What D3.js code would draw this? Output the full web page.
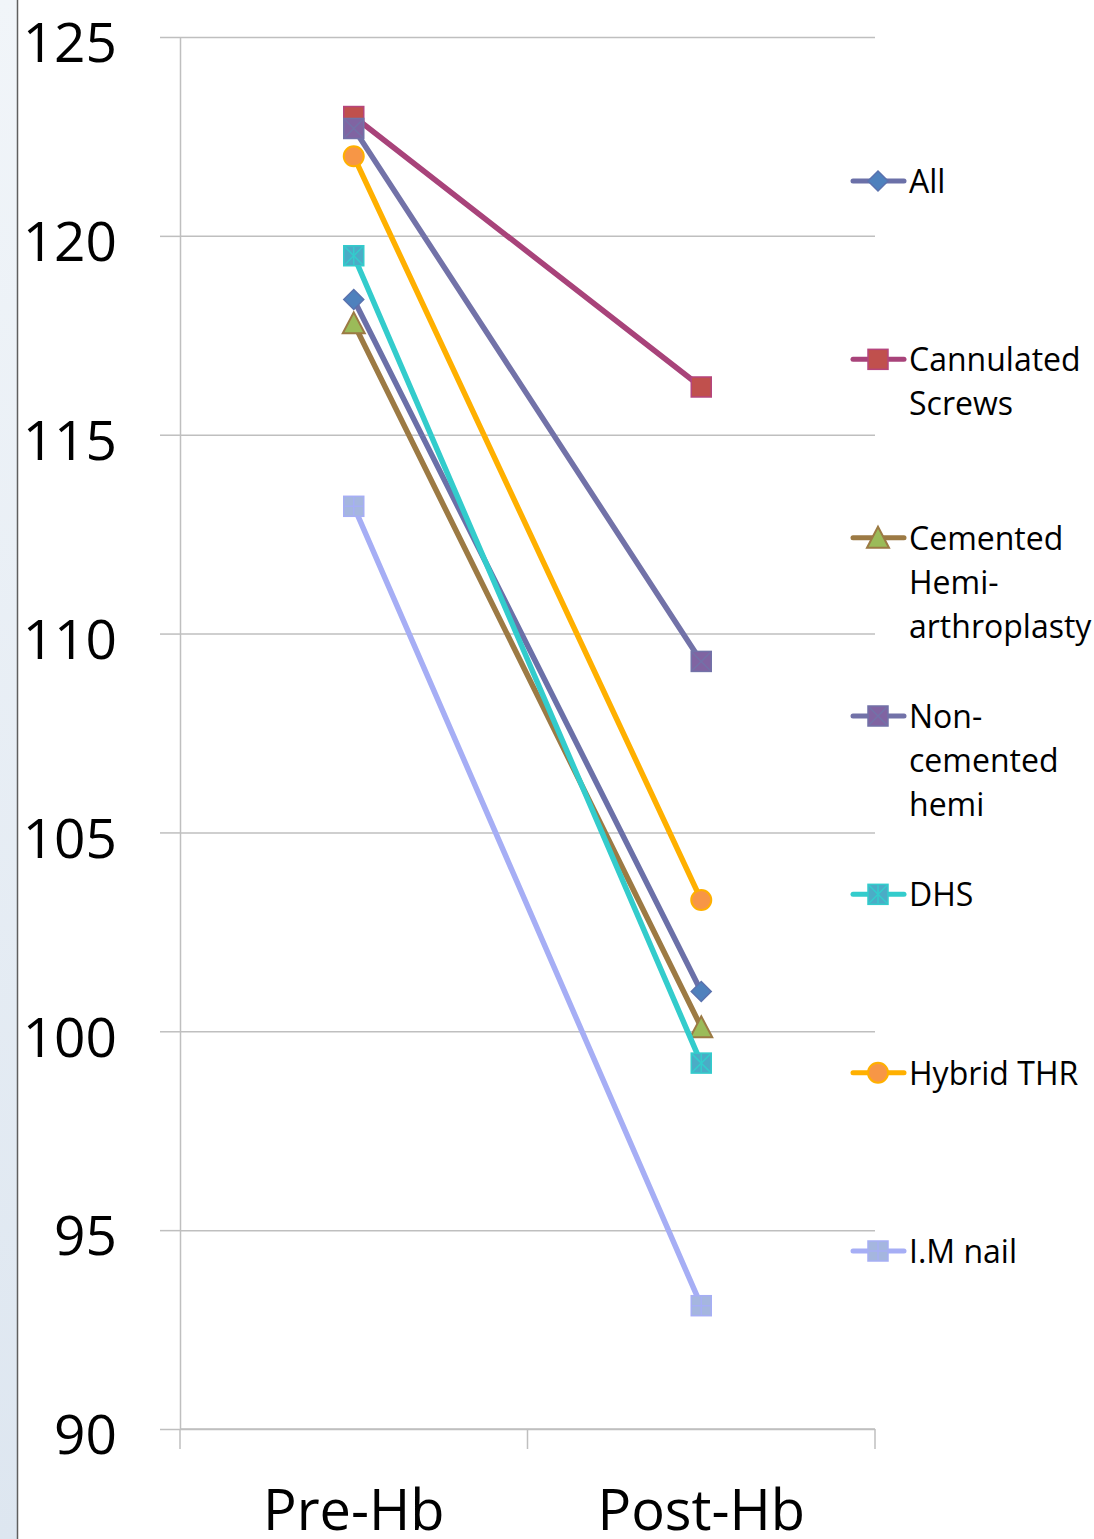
<!DOCTYPE html>
<html>
<head>
<meta charset="utf-8">
<script src="https://cdn.jsdelivr.net/npm/d3@7"></script>
<style>
  body { margin: 0; background: #fff; }
  text { font-family: "Open Sans", "Noto Sans", sans-serif; fill: #000; }
</style>
</head>
<body>
<svg id="chart" width="1094" height="1539"></svg>
<script>
// categories and values
categories = ["Pre-Hb", "Post-Hb"]
seriesNames = ["All", "Cannulated Screws", "Cemented Hemi-arthroplasty", "Non-cemented hemi", "DHS", "Hybrid THR", "I.M nail"]
legendLines = [["All"], ["Cannulated", "Screws"], ["Cemented", "Hemi-", "arthroplasty"], ["Non-", "cemented", "hemi"], ["DHS"], ["Hybrid THR"], ["I.M nail"]]
allVals = [118.4, 101.0]
cannulatedVals = [123.0, 116.2]
cementedVals = [117.8, 100.1]
nonCementedVals = [122.7, 109.3]
dhsVals = [119.5, 99.2]
hybridVals = [122.0, 103.3]
imNailVals = [113.2, 93.1]
yTicks = [90, 95, 100, 105, 110, 115, 120, 125]

seriesVals = [allVals, cannulatedVals, cementedVals, nonCementedVals, dhsVals, hybridVals, imNailVals]
lineColors = ["#6B70A8", "#A8437A", "#9C7A44", "#7272A8", "#33CCCC", "#FFB000", "#A6AEF5"]
markerFill = ["#4F81BD", "#C0504D", "#9BBB59", "#8064A2", "#4BACC6", "#F79646", "#A5B6DF"]
markerStroke = ["#5A72AE", "#B5457D", "#9C7A44", "#7272A8", "#33CCCC", "#FFB000", "#A6AEF5"]
markerShape = ["diamond", "square", "triangle", "squareX", "squareStar", "circle", "squarePlus"]

svg = d3.select("#chart")
const plotL = 180, plotR = 875, plotT = 37, plotB = 1429

// left strip
defs = svg.append("defs")
grad = defs.append("linearGradient").attr("id", "strip").attr("x1", 0).attr("y1", 0).attr("x2", 0).attr("y2", 1)
grad.append("stop").attr("offset", "0%").attr("stop-color", "#F1F5F9")
grad.append("stop").attr("offset", "100%").attr("stop-color", "#DDE6F0")
svg.append("rect").attr("x", 0).attr("y", 0).attr("width", 17).attr("height", 1539).attr("fill", "url(#strip)")
svg.append("line").attr("x1", 17.5).attr("x2", 17.5).attr("y1", 0).attr("y2", 1539)
  .attr("stroke", "#5F5F5F").attr("stroke-width", 1.5)

y = d3.scaleLinear().domain([90, 125]).range([plotB, plotT])
x = d3.scalePoint().domain(categories).range([plotL, plotR]).padding(0.5)

// gridlines
grid = svg.append("g").attr("transform", `translate(${plotL},0)`)
  .call(d3.axisLeft(y).tickValues(yTicks).tickSize(-(plotR - plotL)).tickFormat(""))
grid.select(".domain").remove()
grid.selectAll("line").attr("stroke", "#BFBFBF").attr("stroke-width", 1.5)

// y axis
yAxis = svg.append("g").attr("transform", `translate(${plotL},0)`)
  .call(d3.axisLeft(y).tickValues(yTicks).tickSize(20).tickSizeOuter(0).tickPadding(43))
yAxis.select(".domain").attr("stroke", "#BFBFBF").attr("stroke-width", 1.5)
yAxis.selectAll("line").attr("stroke", "#BFBFBF").attr("stroke-width", 1.5)
yAxis.selectAll("text").attr("font-size", 55).attr("font-family", "Open Sans").attr("fill", "#000")
  .attr("dy", "0.45em")

// x axis
xAxisLine = svg.append("g").attr("transform", `translate(0,${plotB})`)
xAxisLine.append("line").attr("x1", plotL).attr("x2", plotR).attr("stroke", "#BFBFBF").attr("stroke-width", 1.5)
bounds = [plotL, (plotL + plotR) / 2, plotR]
xAxisLine.selectAll(".tk").data(bounds).join("line").attr("class", "tk")
  .attr("x1", d => d).attr("x2", d => d).attr("y1", 0).attr("y2", 20)
  .attr("stroke", "#BFBFBF").attr("stroke-width", 1.5)
svg.selectAll(".cat").data(categories).join("text").attr("class", "cat")
  .attr("x", d => x(d)).attr("y", 1530).attr("text-anchor", "middle")
  .attr("font-size", 56).text(d => d)

function drawMarker(g, shape, fill, stroke) {
  var s = 10
  if (shape == "diamond") {
    g.append("path").attr("d", `M0,${-s}L${s},0L0,${s}L${-s},0Z`).attr("fill", fill).attr("stroke", stroke).attr("stroke-width", 1.5)
  } else if (shape == "triangle") {
    g.append("path").attr("d", `M0,${-s-1}L${s+1},${s}L${-s-1},${s}Z`).attr("fill", fill).attr("stroke", stroke).attr("stroke-width", 2)
  } else if (shape == "circle") {
    g.append("circle").attr("r", s).attr("fill", fill).attr("stroke", stroke).attr("stroke-width", 2)
  } else {
    g.append("rect").attr("x", -s).attr("y", -s).attr("width", 2 * s).attr("height", 2 * s)
      .attr("fill", fill).attr("stroke", stroke).attr("stroke-width", 1.5)
    var p = s - 1
    if (shape == "squareX" || shape == "squareStar") {
      g.append("path").attr("d", `M${-p},${-p}L${p},${p}M${p},${-p}L${-p},${p}`).attr("stroke", stroke).attr("stroke-width", 1.5)
    }
    if (shape == "squareStar") {
      g.append("path").attr("d", `M0,${-p}L0,${p}`).attr("stroke", stroke).attr("stroke-width", 1.5)
    }
    if (shape == "squarePlus") {
      g.append("path").attr("d", `M0,${-p}L0,${p}M${-p},0L${p},0`).attr("stroke", stroke).attr("stroke-width", 1.5)
    }
  }
}

lineGen = d3.line().x((d, i) => x(categories[i])).y(d => y(d))

// series
seriesVals.forEach((vals, k) => {
  var g = svg.append("g")
  g.append("path").attr("d", lineGen(vals)).attr("fill", "none")
    .attr("stroke", lineColors[k]).attr("stroke-width", 5.5).attr("stroke-linecap", "round")
  vals.forEach((v, i) => {
    var m = g.append("g").attr("transform", `translate(${x(categories[i])},${y(v)})`)
    drawMarker(m, markerShape[k], markerFill[k], markerStroke[k])
  })
})

// legend
legendY = d3.scalePoint().domain(seriesNames).range([181, 1251])
legend = svg.selectAll(".leg").data(seriesNames).join("g").attr("class", "leg")
  .attr("transform", d => `translate(0,${legendY(d)})`)
legend.each(function(d, k) {
  var g = d3.select(this)
  g.append("line").attr("x1", 853).attr("x2", 904).attr("stroke", lineColors[k])
    .attr("stroke-width", 5).attr("stroke-linecap", "round")
  var m = g.append("g").attr("transform", "translate(878,0)")
  drawMarker(m, markerShape[k], markerFill[k], markerStroke[k])
  var t = g.append("text").attr("x", 909).attr("y", 12).attr("font-size", 32)
  legendLines[k].forEach((ln, j) => {
    t.append("tspan").attr("x", 909).attr("dy", j == 0 ? 0 : 44).text(ln)
  })
})
</script>
</body>
</html>
